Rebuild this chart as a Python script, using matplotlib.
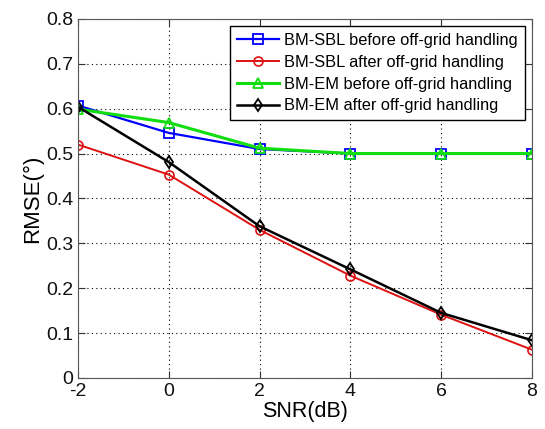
import matplotlib.pyplot as plt

plt.rcParams['font.family'] = ['Liberation Sans', 'DejaVu Sans']

snr = [-2, 0, 2, 4, 6, 8]
sbl_before = [0.607, 0.546, 0.510, 0.500, 0.500, 0.500]
sbl_after = [0.520, 0.453, 0.330, 0.228, 0.141, 0.063]
em_before = [0.599, 0.569, 0.512, 0.500, 0.500, 0.500]
em_after = [0.604, 0.481, 0.338, 0.242, 0.145, 0.084]

fig = plt.figure(figsize=(5.45, 4.29), dpi=100)
ax = fig.add_axes([0.143, 0.119, 0.833, 0.837])

ax.plot(snr, sbl_before, color='#0000ff', lw=1.6, marker='s', ms=6.5, mfc='none', mew=1.3,
        label='BM-SBL before off-grid handling')
ax.plot(snr, sbl_after, color='#dd1111', lw=1.4, marker='o', ms=6.5, mfc='none', mew=1.2,
        label='BM-SBL after off-grid handling')
ax.plot(snr, em_before, color='#11dd11', lw=2.2, marker='^', ms=6.5, mfc='none', mew=1.3,
        label='BM-EM before off-grid handling')
ax.plot(snr, em_after, color='black', lw=1.8, marker='d', ms=6.5, mfc='none', mew=1.3,
        label='BM-EM after off-grid handling')

ax.set_xlim(-2, 8)
ax.set_ylim(0, 0.8)
ax.set_xticks(snr)
ax.set_xticklabels([str(v) for v in snr])
ax.set_yticks([0, 0.1, 0.2, 0.3, 0.4, 0.5, 0.6, 0.7, 0.8])
ax.set_yticklabels(['0', '0.1', '0.2', '0.3', '0.4', '0.5', '0.6', '0.7', '0.8'])
ax.tick_params(direction='in', top=True, right=True, labelsize=14, length=5, colors='#333333')
for lbl in ax.get_xticklabels() + ax.get_yticklabels():
    lbl.set_color('#111111')
ax.grid(True, linestyle=(0, (1, 3)), color='black', lw=0.8)
for s in ax.spines.values():
    s.set_color('#555555')

ax.set_xlabel('SNR(dB)', fontsize=15.5, labelpad=1)
ax.set_ylabel('RMSE(°)', fontsize=16, labelpad=2)

leg = ax.legend(loc='upper right', fontsize=11.8, fancybox=False, edgecolor='black',
                framealpha=1, handlelength=2.6, borderpad=0.4, labelspacing=0.42,
                handletextpad=0.3, borderaxespad=0.45)
leg.get_frame().set_linewidth(1.0)

fig.savefig('out.png', dpi=100)
